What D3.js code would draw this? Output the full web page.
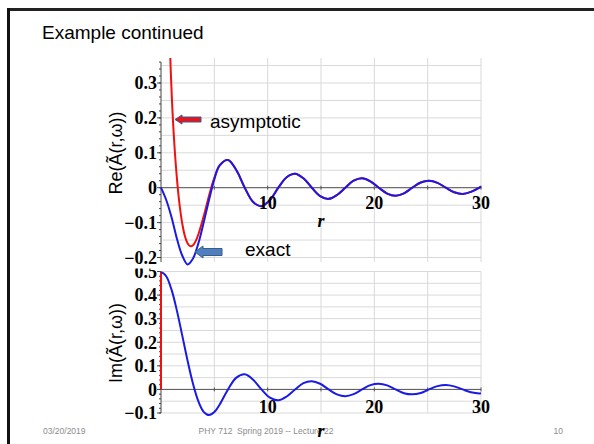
<!DOCTYPE html>
<html lang="en">
<head>
<meta charset="UTF-8">
<title>Example continued</title>
<style>
  body { margin: 0; background: #fff; }
  svg text { font-family: "Liberation Sans", Arial, sans-serif; }
  .num { font-family: "Liberation Serif", "Times New Roman", serif; font-weight: bold; }
</style>
</head>
<body>
<div id="chart"></div>
<script src="https://cdn.jsdelivr.net/npm/d3@7"></script>
<script>

// ---- data ----
// r grid near the origin, then a coarser grid further out
const rNear = [0, 0.5, 1, 1.5, 2, 2.5, 3, 3.5, 4, 4.5, 5, 5.5];
const rFar = [6.28, 7.07, 7.85, 8.64, 9.42, 10.21, 11.0, 11.78, 12.57, 13.35, 14.14, 14.92,
  15.71, 16.49, 17.28, 18.06, 18.85, 19.63, 20.42, 21.21, 21.99, 22.78, 23.56, 24.35,
  25.13, 25.92, 26.70, 27.49, 28.27, 29.06, 29.85, 30];

// exact Re(A)
const reExactNear = [0, -0.036, -0.086, -0.147, -0.195, -0.220, -0.203, -0.160, -0.100, -0.035, 0.024, 0.064];
// exact Im(A)
const imExactNear = [0.5, 0.479, 0.421, 0.332, 0.227, 0.120, 0.024, -0.050, -0.095, -0.109, -0.096, -0.064];

// far field (exact and asymptotic on top of each other)
const reFar = [0.0796, 0.050, 0, -0.041, -0.053, -0.035, 0, 0.030, 0.040, 0.027, 0, -0.024,
  -0.032, -0.021, 0, 0.020, 0.027, 0.018, 0, -0.017, -0.023, -0.016, 0, 0.015,
  0.020, 0.014, 0, -0.013, -0.018, -0.012, 0, 0.003];
const imFar = [0, 0.050, 0.064, 0.041, 0, -0.035, -0.046, -0.030, 0, 0.027, 0.035, 0.024,
  0, -0.021, -0.029, -0.020, 0, 0.018, 0.024, 0.017, 0, -0.016, -0.021, -0.015,
  0, 0.014, 0.019, 0.013, 0, -0.012, -0.017, -0.0165];

// asymptotic Re(A) near the origin
const rAsymNear = [0.8, 1.0, 1.25, 1.5, 1.75, 2.0, 2.25, 2.5, 2.75, 3.0, 3.25, 3.5, 4.0, 4.5, 4.71, 5.0, 5.5];
const reAsymNear = [0.435, 0.270, 0.126, 0.024, -0.051, -0.104, -0.140, -0.160, -0.168, -0.165, -0.153, -0.134,
  -0.082, -0.023, 0, 0.028, 0.064];
// asymptotic Im(A): only a vertical stroke at r = 0 is visible
const rAsymIm = [0, 0];
const imAsym = [0, 0.5];

const reTicks = [-0.2, -0.1, 0, 0.1, 0.2, 0.3];
const imTicks = [-0.1, 0, 0.1, 0.2, 0.3, 0.4, 0.5];
const rTicks = [10, 20, 30];

// ---- drawing ----
const W = 594, H = 444;
const svg = d3.select("#chart").append("svg")
  .attr("width", W).attr("height", H);

// slide frame
svg.append("line").attr("x1", 8.5).attr("x2", W).attr("y1", 9.5).attr("y2", 9.5)
  .attr("stroke", "#222").attr("stroke-width", 3);
svg.append("line").attr("x1", 8.5).attr("x2", 8.5).attr("y1", 8).attr("y2", H)
  .attr("stroke", "#111").attr("stroke-width", 3);

svg.append("text").attr("x", 42).attr("y", 39)
  .style("font-size", "19px").text("Example continued");

const x = d3.scaleLinear().domain([0, 30]).range([161, 481]);
const blue = "#1a1ae6", red = "#f01010";

function pts(rs, vs) { return rs.map((r, i) => [r, vs[i]]); }

// labTop/labBottom: where the tick labels get cut off
function panel(id, y, top, bottom, ticks, gridStep, labTop, labBottom) {
  const g = svg.append("g");
  svg.append("clipPath").attr("id", id)
    .append("rect").attr("x", x(0) - 1).attr("y", top)
    .attr("width", x(30) - x(0) + 4).attr("height", bottom - top + 4);
  svg.append("clipPath").attr("id", id + "lab")
    .append("rect").attr("x", 0).attr("y", labTop).attr("width", x(0)).attr("height", labBottom - labTop);

  // horizontal grid
  const [lo] = y.domain();
  const gv = d3.range(Math.round(lo / gridStep), Math.floor(y.invert(top) / gridStep + 1e-6) + 1)
    .map(k => k * gridStep);
  g.selectAll(null).data(gv).join("line")
    .attr("x1", x(0)).attr("x2", x(30))
    .attr("y1", d => y(d)).attr("y2", d => y(d))
    .attr("stroke", "#d9d9d9").attr("stroke-width", 1);
  // vertical grid
  g.selectAll(null).data(d3.range(5, 31, 5)).join("line")
    .attr("x1", d => x(d)).attr("x2", d => x(d))
    .attr("y1", top).attr("y2", bottom)
    .attr("stroke", "#d9d9d9").attr("stroke-width", 1);

  // r axis at zero
  g.append("line").attr("x1", x(0)).attr("x2", x(30))
    .attr("y1", y(0)).attr("y2", y(0)).attr("stroke", "#555");
  g.selectAll(null).data(d3.range(5, 31, 5)).join("line")
    .attr("x1", d => x(d)).attr("x2", d => x(d))
    .attr("y1", y(0) - 2).attr("y2", y(0) + 2).attr("stroke", "#555");

  // value axis
  g.append("line").attr("x1", x(0)).attr("x2", x(0))
    .attr("y1", top + 4).attr("y2", bottom).attr("stroke", "#444");
  g.selectAll(null).data(ticks).join("line")
    .attr("x1", x(0) - 4).attr("x2", x(0))
    .attr("y1", d => y(d)).attr("y2", d => y(d)).attr("stroke", "#444");
  g.selectAll(null).data(d3.range(Math.round(lo / 0.02), Math.floor(y.invert(top + 4) / 0.02) + 1).map(k => k * 0.02))
    .join("line")
    .attr("x1", x(0) - 2).attr("x2", x(0))
    .attr("y1", d => y(d)).attr("y2", d => y(d)).attr("stroke", "#444");

  const fmt = d => d === 0 ? "0" : (d < 0 ? "\u2212" + d3.format(".1f")(-d) : d3.format(".1f")(d));
  g.append("g").attr("clip-path", "url(#" + id + "lab)")
    .selectAll(null).data(ticks).join("text")
    .attr("class", "num")
    .attr("x", x(0) - 4).attr("y", d => y(d)).attr("dy", "0.35em")
    .attr("text-anchor", "end").style("font-size", "18px")
    .text(fmt);
  return g;
}

// ---- top: Re ----
const yRe = d3.scaleLinear().domain([-0.2, 0.3]).range([257.5, 83]);
const gRe = panel("cre", yRe, 58, 262, reTicks, 0.05, 55, 268);
const lineRe = d3.line().x(d => x(d[0])).y(d => yRe(d[1])).curve(d3.curveCatmullRom.alpha(0.5));

gRe.append("path").attr("clip-path", "url(#cre)")
  .datum(pts(rAsymNear.concat(rFar), reAsymNear.concat(reFar)))
  .attr("d", lineRe).attr("fill", "none").attr("stroke", red).attr("stroke-width", 2);
gRe.append("path").attr("clip-path", "url(#cre)")
  .datum(pts(rNear.concat(rFar), reExactNear.concat(reFar)))
  .attr("d", lineRe).attr("fill", "none").attr("stroke", blue).attr("stroke-width", 2);

gRe.selectAll(null).data(rTicks).join("text").attr("class", "num")
  .attr("x", d => x(d)).attr("y", yRe(0) + 21).attr("text-anchor", "middle")
  .style("font-size", "18px").text(d => d);
gRe.append("text").attr("class", "num").attr("x", x(15)).attr("y", 227)
  .attr("text-anchor", "middle").style("font-size", "18px").style("font-style", "italic").text("r");

svg.append("text").attr("transform", "translate(122,153) rotate(-90)")
  .attr("text-anchor", "middle").style("font-size", "18px").text("Re(\u00c3(r,\u03c9))");

// ---- bottom: Im ----
const yIm = d3.scaleLinear().domain([-0.1, 0.5]).range([413, 271.5]);
const gIm = panel("cim", yIm, 271.5, 413, imTicks, 0.05, 268.5, 430);
const lineIm = d3.line().x(d => x(d[0])).y(d => yIm(d[1])).curve(d3.curveCatmullRom.alpha(0.5));

gIm.append("path").attr("clip-path", "url(#cim)")
  .datum(pts(rAsymIm, imAsym))
  .attr("d", d3.line().x(d => x(d[0])).y(d => yIm(d[1])))
  .attr("fill", "none").attr("stroke", red).attr("stroke-width", 2);
gIm.append("path").attr("clip-path", "url(#cim)")
  .datum(pts(rNear.concat(rFar), imExactNear.concat(imFar)))
  .attr("d", lineIm).attr("fill", "none").attr("stroke", blue).attr("stroke-width", 2);

gIm.selectAll(null).data(rTicks).join("text").attr("class", "num")
  .attr("x", d => x(d)).attr("y", 413).attr("text-anchor", "middle")
  .style("font-size", "18px").text(d => d);

svg.append("text").attr("transform", "translate(122,343) rotate(-90)")
  .attr("text-anchor", "middle").style("font-size", "18px").text("Im(\u00c3(r,\u03c9))");

// footer
const foot = svg.append("g").style("font-size", "8.5px").attr("fill", "#8c8c8c");
foot.append("text").attr("x", 43).attr("y", 434).text("03/20/2019");
foot.append("text").attr("x", 266).attr("y", 434).attr("text-anchor", "middle")
  .attr("xml:space", "preserve").text("PHY 712  Spring 2019 -- Lecture 22");
foot.append("text").attr("x", 563).attr("y", 434).attr("text-anchor", "end").text("10");

svg.append("text").attr("class", "num").attr("x", x(15)).attr("y", 437)
  .attr("text-anchor", "middle").style("font-size", "18px").style("font-style", "italic").text("r");

// callout arrows
function arrow(tipX, tipY, len, shaft, head, headLen, fill, stroke) {
  const p = d3.path();
  p.moveTo(tipX, tipY);
  p.lineTo(tipX + headLen, tipY - head / 2);
  p.lineTo(tipX + headLen, tipY - shaft / 2);
  p.lineTo(tipX + len, tipY - shaft / 2);
  p.lineTo(tipX + len, tipY + shaft / 2);
  p.lineTo(tipX + headLen, tipY + shaft / 2);
  p.lineTo(tipX + headLen, tipY + head / 2);
  p.closePath();
  svg.append("path").attr("d", p.toString()).attr("fill", fill)
    .attr("stroke", stroke).attr("stroke-width", 1);
}
arrow(175, 119.5, 26, 5, 9, 7, "#e8141c", "#3b5b94");
arrow(195, 252, 27, 7, 12, 8, "#4f7fbf", "#385d8a");

svg.append("text").attr("x", 210).attr("y", 128).style("font-size", "19px").text("asymptotic");
svg.append("text").attr("x", 245).attr("y", 256).style("font-size", "19px").text("exact");

</script>
</body>
</html>
